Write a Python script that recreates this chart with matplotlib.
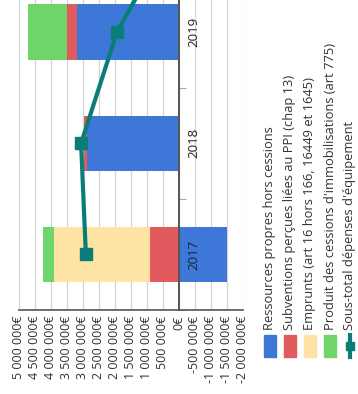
import matplotlib
matplotlib.use("Agg")
import matplotlib.pyplot as plt
import numpy as np
from matplotlib.patches import Rectangle
from matplotlib.lines import Line2D

plt.rcParams["font.family"] = ["Open Sans", "DejaVu Sans"]

# --- data (euros) ---
annees = ["2017", "2018", "2019", "2020"]
ressources_propres = [-1_500_000, 2_870_000, 3_200_000, np.nan]
subventions = [900_000, 100_000, 310_000, np.nan]
emprunts = [3_000_000, 0, 0, np.nan]
cessions = [340_000, 0, 1_220_000, np.nan]
sous_total = [2_910_000, 3_060_000, 1_940_000, 0]

series = [
    ("Ressources propres hors cessions", ressources_propres, "#3d78d8"),
    ("Subventions perçues liées au PPI (chap 13)", subventions, "#e05a5e"),
    ("Emprunts (art 16 hors 166, 16449 et 1645)", emprunts, "#fde3a4"),
    ("Produit des cessions d'immobilisations (art 775)", cessions, "#6fd46c"),
]
ligne_label = "Sous-total dépenses d'équipement"
ligne_color = "#0b7d78"

W, H = 358, 394
fig = plt.figure(figsize=(W / 100, H / 100), dpi=100)
ax = fig.add_axes([19 / W, (H - 310) / H, 224 / W, 310 / H])

y = np.arange(len(annees))
pos_base = np.zeros(len(annees))
neg_base = np.zeros(len(annees))
for label, vals, col in series:
    v = np.array(vals, dtype=float)
    left = np.where(v >= 0, pos_base, neg_base)
    ax.barh(y, v, left=left, height=0.5, color=col, zorder=2)
    vv = np.nan_to_num(v)
    pos_base += np.where(vv > 0, vv, 0)
    neg_base += np.where(vv < 0, vv, 0)

ax.plot(sous_total, y, color=ligne_color, lw=3, marker="s", ms=9, zorder=4)

# value axis runs right-to-left
ticks = np.arange(-2_000_000, 5_000_001, 500_000)
ax.set_xticks(ticks)
ax.set_xticklabels([f"{int(t):,}".replace(",", " ") + "€" for t in ticks],
                   rotation=90, fontsize=9, color="#333333")
ax.tick_params(axis="x", length=0, pad=4)
ax.grid(axis="x", color="#d4d4d4", lw=0.9, zorder=0)

# category axis sits on the zero line, labels on its right
for s in ["top", "left"]:
    ax.spines[s].set_visible(False)
ax.spines["right"].set_position(("data", 0))
ax.spines["right"].set_color("#555555")
ax.spines["right"].set_linewidth(1.4)
ax.spines["right"].set_zorder(3)
ax.spines["bottom"].set_color("#555555")
ax.spines["bottom"].set_linewidth(1.2)
ax.yaxis.tick_right()
ax.set_yticks(np.arange(-0.5, len(annees), 1.0))
ax.set_yticklabels([])
ax.tick_params(axis="y", length=5, color="#aaaaaa", direction="out")
for i, a in enumerate(annees):
    ax.annotate(a, (0, i), xytext=(11, 0), textcoords="offset points",
                rotation=90, ha="center", va="center", fontsize=9.5,
                color="#222222", zorder=5, annotation_clip=True)

ax.set_xlim(5_000_000, -2_000_000)
ax.set_ylim(-0.5, 2.29)

# legend, written bottom-to-top on the right
cols_x = [270, 290, 310, 330, 350]
for (label, _, col), cx in zip(series, cols_x):
    fig.patches.append(Rectangle(((cx - 6) / W, (H - 357) / H), 12 / W, 22 / H,
                                 color=col, transform=fig.transFigure))
    fig.text(cx / W, (H - 330) / H, label, rotation=90, ha="center", va="bottom",
             fontsize=9.3, color="#333333")
cx = cols_x[-1]
fig.lines.append(Line2D([cx / W, cx / W], [(H - 357) / H, (H - 335) / H],
                        color=ligne_color, lw=3, transform=fig.transFigure))
fig.lines.append(Line2D([cx / W], [(H - 346) / H], color=ligne_color, marker="s",
                        ms=6, transform=fig.transFigure))
fig.text(cx / W, (H - 330) / H, ligne_label, rotation=90, ha="center", va="bottom",
         fontsize=9.3, color="#333333")

fig.savefig("out.png", dpi=100)
